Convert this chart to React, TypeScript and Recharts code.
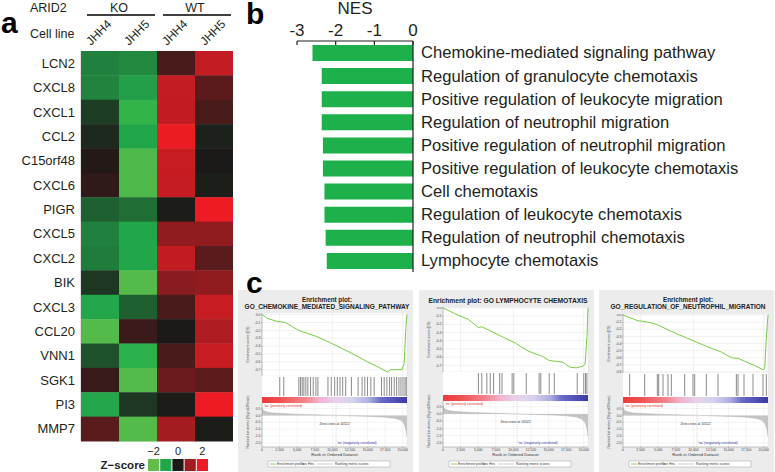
import React from 'react';
import {
  ScatterChart, Scatter, XAxis, YAxis, BarChart, Bar, LineChart, Line,
  CartesianGrid, AreaChart, Area, ReferenceLine,
} from 'recharts';

const FONT = '"Liberation Sans", Arial, Helvetica, sans-serif';
const INK = '#231f20';

// ---------- Panel a : heatmap data ----------
const GENES = ['LCN2', 'CXCL8', 'CXCL1', 'CCL2', 'C15orf48', 'CXCL6', 'PIGR', 'CXCL5', 'CXCL2', 'BIK', 'CXCL3', 'CCL20', 'VNN1', 'SGK1', 'PI3', 'MMP7'];
const SAMPLES = ['KO_JHH4', 'KO_JHH5', 'WT_JHH4', 'WT_JHH5'];
const CELL_LINES = ['JHH4', 'JHH5', 'JHH4', 'JHH5'];
const GROUPS = ['KO', 'WT'];
const Z_LCN2 = [-0.73, -0.8, 0.35, 1.45];
const Z_CXCL8 = [-0.75, -0.95, 1.45, 0.48];
const Z_CXCL1 = [-0.25, -1.65, 1.42, 0.35];
const Z_CCL2 = [-0.11, -1.0, 1.98, -0.05];
const Z_C15ORF48 = [0.05, -1.85, 1.5, 0.0];
const Z_CXCL6 = [0.15, -1.85, 1.47, -0.03];
const Z_PIGR = [-0.5, -0.6, -0.02, 2.0];
const Z_CXCL5 = [-0.73, -1.0, 0.88, 0.88];
const Z_CXCL2 = [-0.7, -1.0, 1.42, 0.47];
const Z_BIK = [-0.21, -1.9, 0.83, 0.88];
const Z_CXCL3 = [-1.05, -0.5, 0.35, 1.5];
const Z_CCL20 = [-1.9, 0.23, 0.0, 1.2];
const Z_VNN1 = [-0.4, -1.5, 0.35, 1.5];
const Z_SGK1 = [0.21, -1.9, 0.6, 0.5];
const Z_PI3 = [-1.05, -0.21, -0.02, 2.0];
const Z_MMP7 = [0.47, -1.9, 1.05, -0.02];
const Z_ROWS = [Z_LCN2, Z_CXCL8, Z_CXCL1, Z_CCL2, Z_C15ORF48, Z_CXCL6, Z_PIGR, Z_CXCL5, Z_CXCL2, Z_BIK, Z_CXCL3, Z_CCL20, Z_VNN1, Z_SGK1, Z_PI3, Z_MMP7];
const Z_LEGEND = [-2, -1, 0, 1, 2];
const Z_LEGEND_LABELS = ['\u22122', '', '0', '', '2'];

// colour scale stops (z, rgb)
const Z_STOPS: [number, number[]][] = [
  [-2, [98, 189, 74]],
  [-1.6, [44, 179, 75]],
  [-1, [34, 166, 74]],
  [0, [28, 26, 24]],
  [1, [160, 28, 32]],
  [2, [237, 28, 36]],
];

// ---------- Panel b : NES ----------
const PATHWAYS = [
  'Chemokine-mediated signaling pathway',
  'Regulation of granulocyte chemotaxis',
  'Positive regulation of leukocyte migration',
  'Regulation of neutrophil migration',
  'Positive regulation of neutrophil migration',
  'Positive regulation of leukocyte chemotaxis',
  'Cell chemotaxis',
  'Regulation of leukocyte chemotaxis',
  'Regulation of neutrophil chemotaxis',
  'Lymphocyte chemotaxis',
];
const NES = [-2.6, -2.36, -2.36, -2.36, -2.33, -2.33, -2.29, -2.29, -2.26, -2.23];
const NES_TICKS = [-3, -2, -1, 0];

// ---------- Panel c : GSEA ----------
const N_GENES = 20600;
const RANK_TICKS = [0, 2500, 5000, 7500, 10000, 12500, 15000, 17500, 20000];
const ES_TICKS_7 = [0, -0.1, -0.2, -0.3, -0.4, -0.5, -0.6, -0.7];
const ES_TICKS_8 = [0, -0.1, -0.2, -0.3, -0.4, -0.5, -0.6, -0.7, -0.8];
const METRIC_TICKS = [0.5, 0, -0.5, -1, -1.5, -2];
const ZERO_CROSS = 10522;

const ES_CHEMOKINE = [[0, 0], [800, -0.05], [2100, -0.085], [3300, -0.1], [5000, -0.19], [5500, -0.21], [7800, -0.28], [10000, -0.37], [12500, -0.48], [15000, -0.6], [16600, -0.67], [17850, -0.73], [18300, -0.7], [19900, -0.7], [20200, -0.62], [20450, -0.15], [20600, 0]];
const ES_LYMPHOCYTE = [[0, 0], [1630, -0.07], [3590, -0.14], [5030, -0.24], [5510, -0.23], [6470, -0.27], [8380, -0.35], [10300, -0.43], [12220, -0.53], [14130, -0.59], [15090, -0.64], [16000, -0.65], [17010, -0.66], [17970, -0.72], [18920, -0.73], [19880, -0.71], [20200, -0.68], [20450, -0.35], [20600, 0]];
const ES_NEUTROPHIL = [[0, 0], [950, -0.035], [2130, -0.08], [2840, -0.087], [4030, -0.11], [4970, -0.14], [6870, -0.23], [9230, -0.33], [11600, -0.43], [13970, -0.52], [15390, -0.6], [16340, -0.61], [17290, -0.65], [18710, -0.71], [19890, -0.77], [20130, -0.75], [20360, -0.34], [20600, 0]];

const HITS_CHEMOKINE = [2521, 3092, 5233, 5471, 5708, 5946, 6232, 6517, 6898, 7278, 7659, 7944, 9372, 9847, 10323, 10703, 11084, 11464, 11893, 12701, 13653, 14223, 14604, 14985, 15460, 15936, 16983, 17363, 17744, 18125, 18410, 18790, 19123, 19456, 19742, 20028, 20313, 20503];
const HITS_LYMPHOCYTE = [5030, 5510, 6230, 6710, 7190, 8050, 8380, 9820, 10060, 11830, 13650, 13890, 15090, 15810, 19070, 20000, 20250, 20450];
const HITS_NEUTROPHIL = [947, 3078, 4878, 5068, 5683, 6394, 6867, 8762, 9946, 10182, 11840, 13498, 16103, 16340, 17192, 18470, 19891, 20365];

const RANK_METRIC = [[0, 0.6], [100, 0.45], [300, 0.34], [700, 0.25], [1500, 0.18], [3000, 0.13], [5000, 0.09], [7500, 0.05], [10522, 0], [13000, -0.04], [15500, -0.08], [17500, -0.13], [19000, -0.22], [19800, -0.38], [20200, -0.62], [20450, -1.0], [20600, -1.55]];

const COLORBAR_STOPS: [number, string][] = [
  [0, '#ee3a3a'], [0.12, '#f05050'], [0.3, '#f08590'], [0.4, '#f2b4cf'],
  [0.5, '#e6d2ea'], [0.62, '#d6d3ef'], [0.74, '#adade3'], [0.82, '#6a6ac8'], [1, '#3a3aa6'],
];

// ---------- helpers ----------
function zColor(z: number): string {
  const rgb = (c: number[]) => `rgb(${c.map((v) => Math.round(v)).join(',')})`;
  if (z <= Z_STOPS[0][0]) return rgb(Z_STOPS[0][1]);
  for (let i = 0; i < Z_STOPS.length - 1; i++) {
    const [a, ca] = Z_STOPS[i];
    const [b, cb] = Z_STOPS[i + 1];
    if (z <= b) {
      const t = (z - a) / (b - a);
      return rgb(ca.map((c, k) => c + (cb[k] - c) * t));
    }
  }
  return rgb(Z_STOPS[Z_STOPS.length - 1][1]);
}

// heatmap geometry
const HEAT_LEFT = 81;
const HEAT_TOP = 51;
const HEAT_W = 152;
const HEAT_H = 390;
const CELL_W = HEAT_W / SAMPLES.length;
const CELL_H = HEAT_H / GENES.length;

const heatData = GENES.flatMap((g, i) => Z_ROWS[i].map((z, j) => ({ x: j + 0.5, y: i + 0.5, z, gene: g, sample: SAMPLES[j] })));

const HeatCell = (p: any) => (
  <rect x={p.cx - CELL_W / 2} y={p.cy - CELL_H / 2} width={CELL_W + 0.4} height={CELL_H + 0.4} fill={zColor(p.payload.z)} />
);
const NoShape = () => <g />;

const CellLineTick = (p: any) => {
  const label = CELL_LINES[Math.floor(p.payload.value)];
  const x = p.x - 9;
  const y = HEAT_TOP - 5;
  return (
    <text x={x} y={y} transform={`rotate(-45 ${x} ${y})`} fontSize={12} fill={INK} fontFamily={FONT} textAnchor="start">
      {label}
    </text>
  );
};

const NesTick = (p: any) => (
  <g>
    <line x1={p.x} x2={p.x} y1={p.y} y2={p.y + 4} stroke={INK} strokeWidth={1.2} />
    <text x={p.x} y={p.y - 5} textAnchor="middle" fontSize={17} fill={INK} fontFamily={FONT}>
      {String(p.payload.value)}
    </text>
  </g>
);

const nesData = PATHWAYS.map((name, i) => ({ name, nes: NES[i] }));

// ---------- GSEA panel ----------
const BOX_TOP = 290;
const BOX_W = 175;
const BOX_H = 182;
const PLOT_L = 24;
const PLOT_R = 6;
const METRIC_BOTTOM = 157;
const X_AXIS_H = 7;
const CB_H = 6;
const tiny = { fontSize: 3.4, fill: '#444', fontFamily: FONT };
const fmtRank = (v: number) => v.toLocaleString('en-US');

type GseaCfg = {
  id: string;
  left: number;
  title: string[];
  esTop: number;
  esBottom: number;
  hitsBottom: number;
  es: number[][];
  esDomain: [number, number];
  esTicks: number[];
  hits: number[];
};

const GSEA: GseaCfg[] = [
  { id: 'g1', left: 238, title: ['Enrichment plot:', 'GO_CHEMOKINE_MEDIATED_SIGNALING_PATHWAY'], esTop: 23, esBottom: 86, hitsBottom: 107, es: ES_CHEMOKINE, esDomain: [-0.78, 0.02], esTicks: ES_TICKS_7, hits: HITS_CHEMOKINE },
  { id: 'g2', left: 419, title: ['Enrichment plot: GO LYMPHOCYTE CHEMOTAXIS'], esTop: 17, esBottom: 82, hitsBottom: 105, es: ES_LYMPHOCYTE, esDomain: [-0.78, 0.01], esTicks: ES_TICKS_7, hits: HITS_LYMPHOCYTE },
  { id: 'g3', left: 599, title: ['Enrichment plot:', 'GO_REGULATION_OF_NEUTROPHIL_MIGRATION'], esTop: 24, esBottom: 83, hitsBottom: 107, es: ES_NEUTROPHIL, esDomain: [-0.815, 0.015], esTicks: ES_TICKS_8, hits: HITS_NEUTROPHIL },
];

function GseaPanel({ cfg }: { cfg: GseaCfg }) {
  const esH = cfg.esBottom - cfg.esTop;
  const hitsH = cfg.hitsBottom - cfg.esBottom;
  const cbTop = cfg.hitsBottom;
  const mTop = cbTop + CB_H;
  const mH = METRIC_BOTTOM - mTop;
  const esData = cfg.es.map(([r, v]) => ({ r, es: v }));
  const hitData = cfg.hits.map((r) => ({ r, y: 0.5 }));
  const metricData = RANK_METRIC.map(([r, m]) => ({ r, m }));
  const cbData = [{ r: 0, v: 1 }, { r: N_GENES, v: 1 }];
  const plotW = BOX_W - PLOT_L - PLOT_R;
  const cx = PLOT_L + plotW / 2;
  const abs = (top: number): React.CSSProperties => ({ position: 'absolute', left: 0, top });
  const HitLine = (p: any) => (
    <line x1={p.cx} x2={p.cx} y1={p.cy - hitsH / 2 + 1} y2={p.cy + hitsH / 2 - 1} stroke="#2a2a2a" strokeWidth={0.55} />
  );
  const single = cfg.title.length === 1;
  return (
    <div style={{ position: 'absolute', left: cfg.left, top: BOX_TOP, width: BOX_W, height: BOX_H, background: '#ececec' }}>
      <div style={abs(cfg.esTop)}>
        <LineChart width={BOX_W} height={esH} data={esData} margin={{ top: 0, right: PLOT_R, bottom: 0, left: 0 }}>
          <CartesianGrid stroke="#dedede" strokeWidth={0.4} fill="#ffffff" />
          <XAxis type="number" dataKey="r" domain={[0, N_GENES]} ticks={RANK_TICKS} hide />
          <YAxis type="number" domain={cfg.esDomain} ticks={cfg.esTicks} interval={0} width={PLOT_L} tick={tiny} tickSize={1} tickMargin={0.5} tickFormatter={(v: number) => v.toFixed(1)} axisLine={{ stroke: '#777', strokeWidth: 0.4 }} tickLine={{ stroke: '#777', strokeWidth: 0.4 }} />
          <Line dataKey="es" type="linear" stroke="#66c82e" strokeWidth={0.9} dot={false} isAnimationActive={false} />
        </LineChart>
      </div>
      <div style={abs(cfg.esBottom)}>
        <ScatterChart width={BOX_W} height={hitsH} margin={{ top: 0, right: PLOT_R, bottom: 0, left: PLOT_L }}>
          <CartesianGrid horizontal={false} vertical={false} fill="#ffffff" stroke="#bbb" />
          <XAxis type="number" dataKey="r" domain={[0, N_GENES]} hide />
          <YAxis type="number" dataKey="y" domain={[0, 1]} hide />
          <Scatter data={hitData} shape={HitLine} isAnimationActive={false} />
        </ScatterChart>
      </div>
      <div style={abs(cbTop)}>
        <AreaChart width={BOX_W} height={CB_H} data={cbData} margin={{ top: 0, right: PLOT_R, bottom: 0, left: PLOT_L }}>
          <defs>
            <linearGradient id={`cb-${cfg.id}`} x1="0" y1="0" x2="1" y2="0">
              {COLORBAR_STOPS.map(([o, c]) => (
                <stop key={o} offset={o} stopColor={c} />
              ))}
            </linearGradient>
          </defs>
          <XAxis type="number" dataKey="r" domain={[0, N_GENES]} hide />
          <YAxis type="number" domain={[0, 1]} hide />
          <Area dataKey="v" type="linear" stroke="none" fill={`url(#cb-${cfg.id})`} fillOpacity={1} baseValue={0} isAnimationActive={false} />
        </AreaChart>
      </div>
      <div style={abs(mTop)}>
        <AreaChart width={BOX_W} height={mH + X_AXIS_H} data={metricData} margin={{ top: 0, right: PLOT_R, bottom: 0, left: 0 }}>
          <CartesianGrid stroke="#e2e2e2" strokeWidth={0.4} fill="#ffffff" />
          <XAxis type="number" dataKey="r" domain={[0, N_GENES]} ticks={RANK_TICKS} interval={0} height={X_AXIS_H} tick={tiny} tickSize={1} tickMargin={0.5} tickFormatter={fmtRank} axisLine={{ stroke: '#777', strokeWidth: 0.4 }} tickLine={{ stroke: '#777', strokeWidth: 0.4 }} />
          <YAxis type="number" domain={[-2.3, 0.9]} ticks={METRIC_TICKS} interval={0} width={PLOT_L} tick={tiny} tickSize={1} tickMargin={0.5} tickFormatter={(v: number) => v.toFixed(1)} axisLine={{ stroke: '#777', strokeWidth: 0.4 }} tickLine={{ stroke: '#777', strokeWidth: 0.4 }} />
          <ReferenceLine x={ZERO_CROSS} stroke="#9a9a9a" strokeWidth={0.4} strokeDasharray="1 1" />
          <Area dataKey="m" type="linear" stroke="#a8a8a8" strokeWidth={0.4} fill="#c4c4c4" fillOpacity={1} baseValue={0} isAnimationActive={false} />
        </AreaChart>
      </div>
      <svg width={BOX_W} height={BOX_H} style={{ position: 'absolute', left: 0, top: 0, pointerEvents: 'none' }} fontFamily={FONT}>
        {cfg.title.map((t, i) => (
          <text key={i} x={89} y={single ? 12.5 : 11.5 + i * 7.2} textAnchor="middle" fontSize={single ? 6.7 : i === 0 ? 6.3 : 6.5} fontWeight="bold" fill="#222">
            {t}
          </text>
        ))}
        <text x={11} y={(cfg.esTop + cfg.esBottom) / 2} transform={`rotate(-90 11 ${(cfg.esTop + cfg.esBottom) / 2})`} textAnchor="middle" fontSize={3.6} fill="#444">Enrichment score (ES)</text>
        <text x={11} y={(cbTop + METRIC_BOTTOM) / 2} transform={`rotate(-90 11 ${(cbTop + METRIC_BOTTOM) / 2})`} textAnchor="middle" fontSize={3.6} fill="#444">Ranked list metric (Signal2Noise)</text>
        <text x={PLOT_L + 2} y={mTop + 4} fontSize={3.4} fill="#e03030">'na' (positively correlated)</text>
        <text x={cx} y={mTop + 22} textAnchor="middle" fontSize={3.4} fill="#333">Zero cross at 10522</text>
        <text x={99} y={METRIC_BOTTOM - 3} fontSize={3.4} fill="#3535b0">'na' (negatively correlated)</text>
        <text x={cx} y={166} textAnchor="middle" fontSize={4.2} fill="#333">Rank in Ordered Dataset</text>
        <rect x={30} y={171} width={122} height={6} fill="#fff" stroke="#8a8a8a" strokeWidth={0.4} />
        <line x1={32} x2={38} y1={174} y2={174} stroke="#66c82e" strokeWidth={0.8} />
        <text x={39} y={175.2} fontSize={3.4} fill="#333">Enrichment profile</text>
        <line x1={64} x2={69} y1={174} y2={174} stroke="#222" strokeWidth={0.6} />
        <text x={70} y={175.2} fontSize={3.4} fill="#333">Hits</text>
        <line x1={79} x2={95} y1={174} y2={174} stroke="#aaa" strokeWidth={0.6} />
        <text x={97} y={175.2} fontSize={3.4} fill="#333">Ranking metric scores</text>
      </svg>
    </div>
  );
}

export default function App() {
  const groupSpan = 2 * CELL_W;
  return (
    <div style={{ position: 'absolute', left: 0, top: 0, width: 775, height: 472, background: '#fff', overflow: 'hidden', fontFamily: FONT }}>
      {/* Panel a heatmap */}
      <div style={{ position: 'absolute', left: 0, top: 0 }}>
        <ScatterChart width={HEAT_LEFT + HEAT_W} height={HEAT_TOP + HEAT_H + 1} margin={{ top: 0, right: 0, bottom: 0, left: 0 }}>
          <XAxis xAxisId="b" type="number" dataKey="x" domain={[0, SAMPLES.length]} tick={false} tickLine={false} height={1} axisLine={{ stroke: '#c4c4c4' }} />
          <XAxis xAxisId="t" orientation="top" type="number" dataKey="x" domain={[0, SAMPLES.length]} ticks={SAMPLES.map((_, j) => j + 0.5)} interval={0} height={HEAT_TOP} axisLine={false} tickLine={false} tickSize={0} tickMargin={0} tick={CellLineTick} />
          <YAxis type="number" dataKey="y" domain={[0, GENES.length]} reversed ticks={GENES.map((_, i) => i + 0.5)} interval={0} width={HEAT_LEFT} tickLine={false} tickSize={0} tickMargin={6} axisLine={{ stroke: '#c4c4c4' }} tickFormatter={(v: number) => GENES[Math.floor(v)]} tick={{ fontSize: 13, fill: INK, fontFamily: FONT }} />
          <Scatter xAxisId="b" data={heatData} shape={NoShape} isAnimationActive={false} />
          <Scatter xAxisId="t" data={heatData} shape={HeatCell} isAnimationActive={false} />
        </ScatterChart>
      </div>

      {/* Panel b bar chart */}
      <div style={{ position: 'absolute', left: 280, top: 0 }}>
        <BarChart layout="vertical" width={495} height={290} data={nesData} margin={{ top: 0, right: 0, bottom: 18, left: 17 }}>
          <XAxis type="number" orientation="top" domain={[-3, 0]} ticks={NES_TICKS} interval={0} height={41} axisLine={{ stroke: INK, strokeWidth: 1.2 }} tickLine={false} tickSize={0} tickMargin={0} tick={NesTick}
            label={{ value: 'NES', position: 'insideTop', offset: 2, fontSize: 17, fill: INK, fontFamily: FONT }} />
          <YAxis type="category" dataKey="name" orientation="right" width={362} interval={0} axisLine={{ stroke: INK, strokeWidth: 1.2 }} tickLine={false} tickSize={0} tickMargin={8} tick={{ fontSize: 16.6, fill: INK, fontFamily: FONT, textAnchor: 'start' }} />
          <Bar dataKey="nes" fill="#1db04b" barSize={16} isAnimationActive={false} />
        </BarChart>
      </div>

      {/* Panel c GSEA plots */}
      {GSEA.map((cfg) => (
        <GseaPanel key={cfg.id} cfg={cfg} />
      ))}

      {/* annotations: panel letters, group headers, z-score legend */}
      <svg width={775} height={472} style={{ position: 'absolute', left: 0, top: 0, pointerEvents: 'none' }} fontFamily={FONT}>
        <text x={1} y={33} fontSize={30} fontWeight="bold" fill="#000">a</text>
        <text x={246} y={24} fontSize={30} fontWeight="bold" fill="#000">b</text>
        <text x={246} y={293} fontSize={30} fontWeight="bold" fill="#000">c</text>
        <text x={30} y={12} fontSize={12.5} fill={INK}>ARID2</text>
        <text x={30} y={37.5} fontSize={12.5} fill={INK}>Cell line</text>
        {GROUPS.map((g, k) => {
          const x0 = HEAT_LEFT + k * groupSpan;
          return (
            <g key={g}>
              <text x={x0 + groupSpan / 2} y={11.5} textAnchor="middle" fontSize={12.5} fill={INK}>{g}</text>
              <line x1={x0 + 6} x2={x0 + groupSpan - 2} y1={15} y2={15} stroke="#000" strokeWidth={1.6} />
            </g>
          );
        })}
        <text x={145} y={469} textAnchor="end" fontSize={11.5} fontWeight="bold" fill={INK}>Z{'\u2212'}score</text>
        {Z_LEGEND.map((z, i) => (
          <g key={z}>
            <rect x={148 + i * 12.2} y={459} width={11.2} height={12} fill={zColor(z)} />
            {Z_LEGEND_LABELS[i] && (
              <text x={148 + i * 12.2 + 5.6} y={455} textAnchor="middle" fontSize={11} fill={INK}>{Z_LEGEND_LABELS[i]}</text>
            )}
          </g>
        ))}
      </svg>
    </div>
  );
}
